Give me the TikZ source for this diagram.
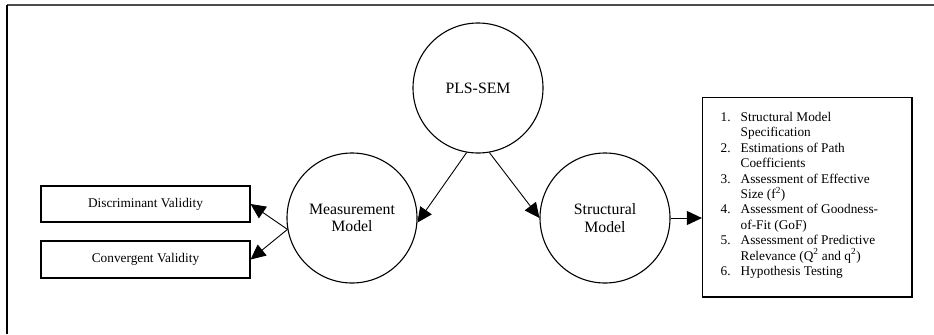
\documentclass[tikz,border=0pt]{standalone}
\usepackage{fontspec}
\setmainfont{Liberation Serif}
\usetikzlibrary{arrows.meta,calc}

\tikzset{
  bubble/.style={circle, draw, line width=1.1bp, minimum size=130bp, inner sep=0pt,
    align=center, font=\fontsize{15.8bp}{17.6bp}\selectfont},
  labelbox/.style={rectangle, draw, line width=1.1bp, inner sep=0pt,
    font=\fontsize{13.3bp}{15.4bp}\selectfont},
  flow/.style={line width=0.9bp, -{Triangle[length=15bp, width=14bp]}},
}

\begin{document}
\begin{tikzpicture}[x=1bp, y=-1bp]
  \useasboundingbox (0,0) rectangle (934,334);

  % outer frame (open to the right and bottom)
  \draw[line width=1.4bp, black!70] (7,4.8) -- (934,4.8);
  \draw[line width=1.3bp] (7,4.8) -- (7,334);

  % the three models
  \node[bubble] (pls)   at (478,88)  {PLS-SEM};
  \node[bubble] (meas)  at (352,218) {Measurement\\Model};
  \node[bubble] (struc) at (605,218) {Structural\\Model};

  % validity boxes
  \node[labelbox, minimum width=209bp, minimum height=36bp] (disc) at (145.5,204) {Discriminant Validity};
  \node[labelbox, minimum width=209bp, minimum height=37bp] (conv) at (145.5,259.5) {Convergent Validity};

  % list of structural model steps
  \node[rectangle, draw, line width=1.2bp, minimum width=209.5bp, minimum height=199.5bp, inner sep=0pt]
    (steps) at (807.25,197.25) {};
  \node[anchor=base west, inner sep=0pt, font=\fontsize{13.3bp}{15.4bp}\selectfont] (stepstext) at (720.5,121.5)
  {\parbox[t]{185bp}{\raggedright
    \makebox[20bp][l]{1.}Structural Model\\
    \hspace*{20bp}Specification\\
    \makebox[20bp][l]{2.}Estimations of Path\\
    \hspace*{20bp}Coefficients\\
    \makebox[20bp][l]{3.}Assessment of Effective\\
    \hspace*{20bp}Size (f\textsuperscript{2})\\
    \makebox[20bp][l]{4.}Assessment of Goodness-\\
    \hspace*{20bp}of-Fit (GoF)\\
    \makebox[20bp][l]{5.}Assessment of Predictive\\
    \hspace*{20bp}Relevance (Q\textsuperscript{2} and q\textsuperscript{2})\\
    \makebox[20bp][l]{6.}Hypothesis Testing}};

  % connectors
  \draw[flow] (pls.260) -- (meas.356);
  \draw[flow] (pls.280) -- (struc.180);
  \draw[flow] (meas.190) -- (disc.east);
  \draw[flow] (meas.190) -- (conv.east);
  \draw[flow] (struc.east) -- (struc.east -| steps.west);
\end{tikzpicture}
\end{document}
